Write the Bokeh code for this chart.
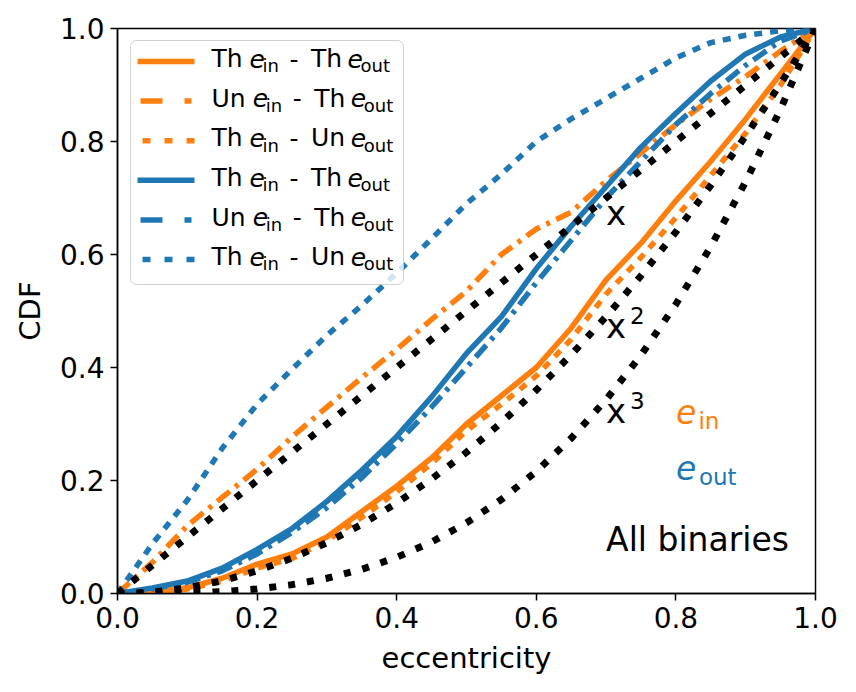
from bokeh.plotting import figure
from bokeh.models import Range1d, FixedTicker, PrintfTickFormatter, Label, BoxAnnotation, Arrow
from bokeh.embed import file_html
from bokeh.resources import INLINE

# ---------------- data ----------------
ecc = [0.0, 0.05, 0.10, 0.15, 0.20, 0.25, 0.30, 0.35, 0.40, 0.45, 0.50,
       0.55, 0.60, 0.65, 0.70, 0.75, 0.80, 0.85, 0.90, 0.95, 1.0]

# inner eccentricity CDFs (orange)
in_th_th = [0.0, 0.003, 0.010, 0.027, 0.052, 0.070, 0.100, 0.145, 0.190, 0.240, 0.300,
            0.350, 0.400, 0.470, 0.555, 0.620, 0.695, 0.765, 0.840, 0.920, 1.0]
in_un_th = [0.0, 0.055, 0.120, 0.170, 0.220, 0.277, 0.330, 0.382, 0.432, 0.485, 0.535,
            0.600, 0.645, 0.675, 0.730, 0.780, 0.830, 0.875, 0.915, 0.960, 1.0]
in_th_un = [0.0, 0.002, 0.008, 0.022, 0.045, 0.062, 0.093, 0.135, 0.180, 0.230, 0.288,
            0.335, 0.385, 0.450, 0.530, 0.595, 0.665, 0.740, 0.815, 0.900, 1.0]

# outer eccentricity CDFs (blue)
out_th_th = [0.0, 0.010, 0.022, 0.045, 0.078, 0.115, 0.163, 0.218, 0.278, 0.348, 0.425,
             0.490, 0.575, 0.650, 0.720, 0.790, 0.850, 0.907, 0.955, 0.985, 1.0]
out_un_th = [0.0, 0.008, 0.020, 0.040, 0.070, 0.108, 0.152, 0.205, 0.265, 0.330, 0.400,
             0.470, 0.550, 0.625, 0.700, 0.765, 0.830, 0.885, 0.935, 0.978, 1.0]
out_th_un = [0.0, 0.088, 0.165, 0.257, 0.335, 0.397, 0.457, 0.510, 0.567, 0.628, 0.690,
             0.742, 0.800, 0.840, 0.876, 0.912, 0.948, 0.975, 0.988, 0.996, 1.0]

# reference curves x, x^2, x^3
ref_lin = [0.0, 0.05, 0.10, 0.15, 0.20, 0.25, 0.30, 0.35, 0.40, 0.45, 0.50,
           0.55, 0.60, 0.65, 0.70, 0.75, 0.80, 0.85, 0.90, 0.95, 1.0]
ref_sq = [0.0, 0.0025, 0.01, 0.0225, 0.04, 0.0625, 0.09, 0.1225, 0.16, 0.2025, 0.25,
          0.3025, 0.36, 0.4225, 0.49, 0.5625, 0.64, 0.7225, 0.81, 0.9025, 1.0]
ref_cube = [0.0, 0.000125, 0.001, 0.003375, 0.008, 0.015625, 0.027, 0.042875, 0.064,
            0.091125, 0.125, 0.166375, 0.216, 0.274625, 0.343, 0.421875, 0.512,
            0.614125, 0.729, 0.857375, 1.0]

ticks = [0.0, 0.2, 0.4, 0.6, 0.8, 1.0]

ORANGE = "#ff7f0e"
BLUE = "#1f77b4"
FONT = "DejaVu Sans"

# (values, color, plot dash, legend dash, first word, second word)
series = [
    (in_th_th, ORANGE, "solid", "solid", "Th", "Th"),
    (in_un_th, ORANGE, "16 7 4 7", "22 22 7 22", "Un", "Th"),
    (in_th_un, ORANGE, "8 8", "8 14", "Th", "Un"),
    (out_th_th, BLUE, "solid", "solid", "Th", "Th"),
    (out_un_th, BLUE, "16 7 4 7", "22 22 7 22", "Un", "Th"),
    (out_th_un, BLUE, "8 8", "8 14", "Th", "Un"),
]

# ---------------- figure ----------------
p = figure(width=856, height=692, x_range=Range1d(0, 1), y_range=Range1d(0, 1),
           output_backend="svg", toolbar_location=None,
           min_border_left=117, min_border_right=41, min_border_top=28, min_border_bottom=99,
           background_fill_color="white", border_fill_color="white")
p.xgrid.visible = False
p.ygrid.visible = False
p.outline_line_color = "black"
p.outline_line_width = 1.5
p.outline_line_alpha = 1.0

for ax in (p.xaxis[0], p.yaxis[0]):
    ax.ticker = FixedTicker(ticks=ticks)
    ax.formatter = PrintfTickFormatter(format="%.1f")
    ax.major_tick_out = 7
    ax.major_tick_in = 0
    ax.minor_tick_out = 0
    ax.minor_tick_in = 0
    ax.major_tick_line_width = 1.5
    ax.major_tick_line_color = "black"
    ax.axis_line_color = "black"
    ax.axis_line_width = 1.5
    ax.major_label_text_font = FONT
    ax.major_label_text_font_size = "28px"
    ax.major_label_text_color = "black"
    ax.axis_label_text_font = FONT
    ax.axis_label_text_font_size = "29px"
    ax.axis_label_text_font_style = "normal"
    ax.axis_label_text_color = "black"
    ax.major_label_standoff = 6

p.xaxis.axis_label = "eccentricity"
p.yaxis.axis_label = "CDF"
p.xaxis.axis_label_standoff = 10
p.yaxis.axis_label_standoff = 10

for vals, color, dash, _, _, _ in series:
    p.line(ecc, vals, line_color=color, line_width=5.5, line_dash=dash, line_join="round")

for ref in (ref_lin, ref_sq, ref_cube):
    p.line(ecc, ref, line_color="black", line_width=7, line_dash="7 12")

# baseline correction: Bokeh's alphabetic baseline sits ~0.39 em lower than wanted
BL = 0.39

# ---------------- text annotations in the plot ----------------
def lab(x, y, text, size, color="black", style="normal", xo=0, yo=0):
    p.add_layout(Label(x=x, y=y, text=text, x_offset=xo, y_offset=yo + BL * size,
                       text_font=FONT, text_font_size=f"{size}px", text_font_style=style,
                       text_color=color, text_align="left", text_baseline="alphabetic"))

lab(0.7, 0.65, "x", 34)
lab(0.7, 0.45, "x", 34)
lab(0.7, 0.45, "2", 23, xo=24, yo=15)
lab(0.7, 0.30, "x", 34)
lab(0.7, 0.30, "3", 23, xo=24, yo=15)
lab(0.8, 0.30, "e", 33, color=ORANGE, style="italic")
lab(0.8, 0.30, "in", 23, color=ORANGE, xo=22.5, yo=-5.5)
lab(0.8, 0.20, "e", 33, color=BLUE, style="italic")
lab(0.8, 0.20, "out", 23, color=BLUE, xo=23, yo=-5.5)
lab(0.7, 0.073, "All binaries", 33)

# ---------------- legend (screen units, relative to the frame) ----------------
p.add_layout(BoxAnnotation(left=13, right=286, bottom=309, top=553,
                           left_units="screen", right_units="screen",
                           bottom_units="screen", top_units="screen",
                           fill_color="white", fill_alpha=0.8,
                           line_color="#cccccc", line_width=1, line_alpha=0.9,
                           border_radius=6))

def sl(x, y, text, size, color="black", style="normal"):
    p.add_layout(Label(x=x, y=y + BL * size, x_units="screen", y_units="screen", text=text,
                       text_font=FONT, text_font_size=f"{size}px", text_font_style=style,
                       text_color=color, text_align="left", text_baseline="alphabetic"))

def word_w(w):
    return 38.0 if w == "Th" else 41.3

for i, (_, color, _, ldash, w1, w2) in enumerate(series):
    base = 525 - 39.6 * i
    ly = 532 - 39.6 * i
    x_start = 20 if ldash == "solid" else (23 if ldash.startswith("22") else 25)
    p.add_layout(Arrow(end=None, x_start=x_start, y_start=ly, x_end=77, y_end=ly,
                       start_units="screen", end_units="screen",
                       line_color=color, line_width=5.5, line_dash=ldash))
    x0 = 94
    a = word_w(w1)
    sl(x0, base, w1, 25)
    sl(x0 + a, base, "e", 25, style="italic")
    sl(x0 + a + 13, base - 4.5, "in", 18)
    sl(x0 + a + 40, base, "-", 25)
    xw2 = x0 + a + 61.5
    sl(xw2, base, w2, 25)
    xe2 = xw2 + word_w(w2) - 1.5
    sl(xe2, base, "e", 25, style="italic")
    sl(xe2 + 13, base - 4.5, "out", 18)

open("out.html", "w").write(file_html(p, INLINE))
